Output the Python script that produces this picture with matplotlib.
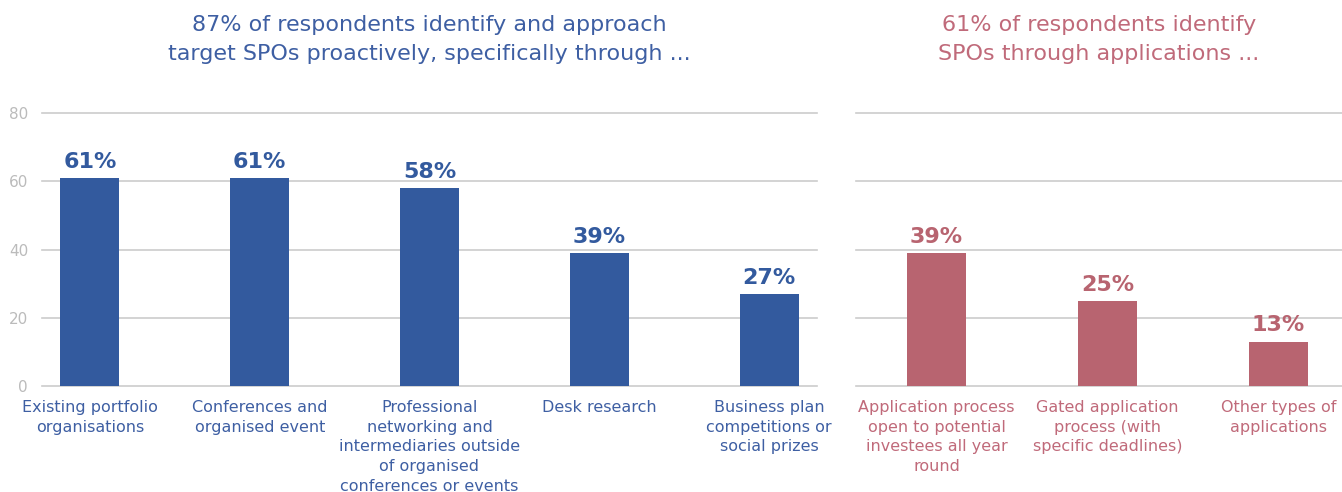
import matplotlib.pyplot as plt
import numpy as np

plt.rcParams['font.family'] = ['DejaVu Sans']

# data
left_labels = ['Existing portfolio\norganisations', 'Conferences and\norganised event',
               'Professional\nnetworking and\nintermediaries outside\nof organised\nconferences or events',
               'Desk research', 'Business plan\ncompetitions or\nsocial prizes']
left_values = [61, 61, 58, 39, 27]
right_labels = ['Application process\nopen to potential\ninvestees all year\nround',
                'Gated application\nprocess (with\nspecific deadlines)',
                'Other types of\napplications']
right_values = [39, 25, 13]
left_title = '87% of respondents identify and approach\ntarget SPOs proactively, specifically through ...'
right_title = '61% of respondents identify\nSPOs through applications ...'
yticks = [0, 20, 40, 60, 80]

blue = '#335a9e'
pink = '#b86470'
blue_txt = '#3e5fa3'
pink_txt = '#c06a7a'
grid_c = '#cccccc'
tick_c = '#bbbbbb'

fig = plt.figure(figsize=(13.42, 4.92), dpi=100)
ax1 = fig.add_axes([42/1342, 106/492, 775/1342, 273/492])
ax2 = fig.add_axes([856/1342, 106/492, 486/1342, 273/492])

def draw(ax, labels, values, color, txtc, xlim, width):
    x = np.arange(len(values))
    ax.bar(x, values, width=width, color=color, zorder=3)
    for xi, v in zip(x, values):
        ax.text(xi, v + 1.8, '%d%%' % v, ha='center', va='bottom',
                fontsize=16, fontweight='bold', color=color)
    ax.set_ylim(0, 80)
    ax.set_xlim(*xlim)
    ax.set_yticks(yticks)
    ax.grid(axis='y', color=grid_c, linewidth=1.2, zorder=0)
    for gl in ax.get_ygridlines():
        gl.set_clip_on(False)
    ax.set_xticks(x)
    ax.set_xticklabels(labels, color=txtc, fontsize=11.5, linespacing=1.39, va='top')
    ax.tick_params(axis='x', length=0, pad=10)
    ax.tick_params(axis='y', length=0, pad=10, labelcolor=tick_c, labelsize=11)
    for s in ax.spines.values():
        s.set_visible(False)

draw(ax1, left_labels, left_values, blue, blue_txt, (-48/170, 4 + 48/170), 59/170)
draw(ax2, right_labels, right_values, pink, pink_txt, (-80.5/171, 2 + 63.5/171), 59/171)
ax2.set_yticklabels([])

fig.text((42 + 817) / 2 / 1342, 1 - 15/492, left_title, ha='center', va='top',
         fontsize=16, color=blue_txt, linespacing=1.55)
fig.text((856 + 1342) / 2 / 1342, 1 - 15/492, right_title, ha='center', va='top',
         fontsize=16, color=pink_txt, linespacing=1.55)

fig.savefig('out.png', dpi=100)
